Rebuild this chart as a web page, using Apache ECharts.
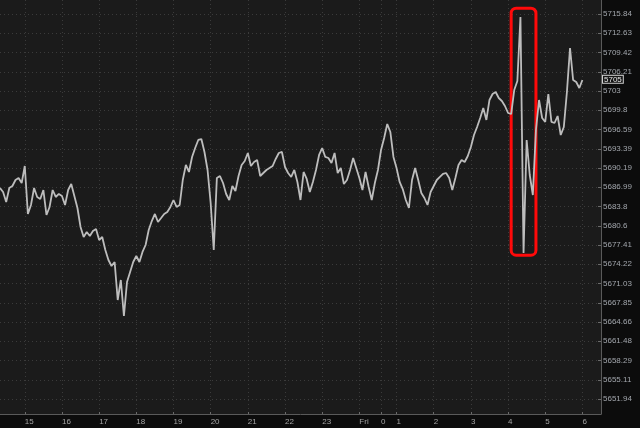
<!DOCTYPE html>
<html><head><meta charset="utf-8">
<script src="https://cdn.jsdelivr.net/npm/echarts@6/dist/echarts.min.js"></script>
<style>html,body{margin:0;padding:0;background:#0c0c0c;}#c{width:640px;height:428px;}</style>
</head><body><div id="c"></div>
<script>
// time slots: 5-minute steps from 14:20 to 06:30 (next day)
const startMinutes = 14 * 60 + 20;
const stepMinutes = 5;
const slotCount = 195;
const timeSlots = [];
for (let i = 0; i < slotCount; i++) {
  const m = (startMinutes + i * stepMinutes) % 1440;
  timeSlots.push(String(Math.floor(m / 60)).padStart(2, '0') + ':' + String(m % 60).padStart(2, '0'));
}

// price trace (one reading per 5-minute slot, 14:20 .. 06:00)
const prices = [
  5686.96, 5686.30, 5684.64, 5686.96, 5687.29, 5688.29, 5688.62, 5687.79, 5690.61, 5682.65,
  5684.14, 5686.96, 5685.47, 5685.14, 5686.63, 5682.48, 5683.81, 5686.63, 5685.47, 5685.97,
  5685.63, 5684.14, 5686.63, 5687.63, 5685.63, 5683.64, 5680.49, 5678.83, 5679.66, 5679.00,
  5679.82, 5680.15, 5678.33, 5678.83, 5676.67, 5675.01, 5674.02, 5674.68, 5668.37, 5671.69,
  5665.72, 5671.36, 5673.02, 5674.68, 5675.68, 5674.68, 5676.34, 5677.50, 5679.99, 5681.48,
  5682.65, 5681.32, 5681.98, 5682.65, 5682.98, 5683.81, 5684.97, 5683.81, 5684.14, 5688.29,
  5690.78, 5689.62, 5692.11, 5693.60, 5694.93, 5695.09, 5692.94, 5689.95, 5684.47, 5676.67,
  5688.62, 5688.95, 5687.79, 5685.97, 5684.97, 5687.29, 5686.46, 5688.95, 5690.78, 5691.44,
  5692.77, 5690.61, 5691.28, 5691.61, 5688.95, 5689.45, 5689.95, 5690.28, 5690.61, 5691.78,
  5692.77, 5692.94, 5690.45, 5689.45, 5688.79, 5689.95, 5687.96, 5684.97, 5689.62, 5688.46,
  5686.30, 5687.96, 5689.95, 5692.44, 5693.60, 5692.11, 5691.94, 5691.11, 5692.77, 5689.45,
  5690.28, 5687.63, 5688.29, 5689.95, 5691.94, 5690.28, 5688.62, 5686.63, 5689.62, 5687.13,
  5684.97, 5687.79, 5689.95, 5693.27, 5695.26, 5697.58, 5696.26, 5692.11, 5690.28, 5687.96,
  5686.79, 5684.97, 5683.64, 5688.29, 5690.28, 5688.29, 5686.13, 5685.30, 5684.14, 5686.30,
  5687.29, 5688.29, 5688.79, 5689.29, 5689.45, 5688.62, 5686.63, 5688.62, 5690.78, 5691.61,
  5691.28, 5692.27, 5693.76, 5695.76, 5697.09, 5698.58, 5700.24, 5698.25, 5701.57, 5702.56,
  5702.89, 5701.90, 5701.40, 5700.57, 5699.41, 5699.24, 5703.23, 5704.72, 5715.34, 5676.17,
  5694.93, 5689.12, 5685.80, 5696.59, 5701.57, 5698.58, 5697.92, 5702.56, 5697.92, 5697.75,
  5698.91, 5695.76, 5697.09, 5702.89, 5710.20, 5704.89, 5704.55, 5703.56, 5704.89
];

const xTickTimes = ['15:00','16:00','17:00','18:00','19:00','20:00','21:00','22:00','23:00','00:00','00:35','01:00','02:00','03:00','04:00','05:00','06:00'];
const xTickLabels = ['15','16','17','18','19','20','21','22','23','Fri','0','1','2','3','4','5','6'];

const yTickLabels = ['5715.84','5712.63','5709.42','5706.21','5703','5699.8','5696.59','5693.39','5690.19','5686.99','5683.8','5680.6','5677.41','5674.22','5671.03','5667.85','5664.66','5661.48','5658.29','5655.11','5651.94'];
const yMin = 5651.94, yMax = 5715.84;
const yStep = (yMax - yMin) / (yTickLabels.length - 1);

const lastPrice = 5705;
const boxTimes = ['04:05', '04:45'];
const boxPrices = [5675.8, 5716.8];

const FONT = '"Liberation Sans Narrow", "Liberation Sans", sans-serif';
const isTick = (idx, val) => xTickTimes.indexOf(val) >= 0;
const grid = '#3b3b3b';

const chart = echarts.init(document.getElementById('c'), null, {renderer: 'canvas'});
chart.setOption({
  animation: false,
  backgroundColor: '#0c0c0c',
  grid: [
    {left: 0, top: 0, width: 601, height: 414, show: true, backgroundColor: '#1b1b1b', borderWidth: 0},
    {left: 0, top: 14, width: 601, height: 385, show: false}
  ],
  xAxis: [
    {
      type: 'category', gridIndex: 0, data: timeSlots, boundaryGap: false,
      axisLine: {show: true, lineStyle: {color: '#5a5a5a', width: 1}},
      axisTick: {show: true, inside: true, length: 2, interval: isTick, lineStyle: {color: '#6a6a6a'}},
      axisLabel: {show: true, interval: isTick, align: 'left', margin: 4, color: '#a4a4a4', fontSize: 8, fontFamily: FONT,
        formatter: v => xTickLabels[xTickTimes.indexOf(v)]},
      splitLine: {show: true, interval: isTick, lineStyle: {color: grid, type: [1, 3], width: 1}}
    },
    {type: 'category', gridIndex: 1, data: timeSlots, boundaryGap: false, show: false}
  ],
  yAxis: [
    {
      type: 'value', gridIndex: 0, position: 'right', min: 0, max: 1,
      axisLine: {show: true, lineStyle: {color: '#5a5a5a'}},
      axisTick: {show: false}, axisLabel: {show: false}, splitLine: {show: false}
    },
    {
      type: 'value', gridIndex: 1, position: 'right', min: yMin, max: yMax, interval: yStep,
      axisLine: {show: false},
      axisTick: {show: true, inside: true, length: 3, lineStyle: {color: '#6a6a6a'}},
      axisLabel: {show: true, margin: 2, color: '#a2a6ac', fontSize: 8, fontFamily: FONT,
        formatter: v => {
          const k = Math.round((v - yMin) / yStep);
          return yTickLabels[yTickLabels.length - 1 - k] || '';
        }},
      splitLine: {show: true, lineStyle: {color: grid, type: [1, 3], width: 1}}
    }
  ],
  series: [
    {
      type: 'line', xAxisIndex: 1, yAxisIndex: 1, data: prices, clip: false,
      symbol: 'none', lineStyle: {color: '#bdbdbd', width: 1.8}, silent: true,
      markLine: {
        silent: true, symbol: 'none',
        lineStyle: {color: 'rgba(0,0,0,0)', width: 0, type: 'solid'},
        label: {show: true, position: 'end', distance: 2, formatter: String(lastPrice),
          color: '#e6e6e6', fontSize: 8, fontFamily: FONT, backgroundColor: '#151515',
          borderColor: '#d0d0d0', borderWidth: 1, padding: [0, 1, 0, 1], lineHeight: 7},
        data: [{yAxis: lastPrice}]
      }
    },
    {
      type: 'custom', xAxisIndex: 1, yAxisIndex: 1, silent: true,
      data: [[timeSlots.indexOf(boxTimes[0]), boxPrices[0], timeSlots.indexOf(boxTimes[1]), boxPrices[1]]],
      renderItem: (params, api) => {
        const a = api.coord([api.value(0), api.value(3)]);
        const b = api.coord([api.value(2), api.value(1)]);
        return {
          type: 'rect',
          shape: {x: a[0], y: a[1], width: b[0] - a[0], height: b[1] - a[1], r: 5},
          style: {fill: 'none', stroke: '#ff0a0a', lineWidth: 3}
        };
      }
    }
  ]
});
</script>
</body></html>
